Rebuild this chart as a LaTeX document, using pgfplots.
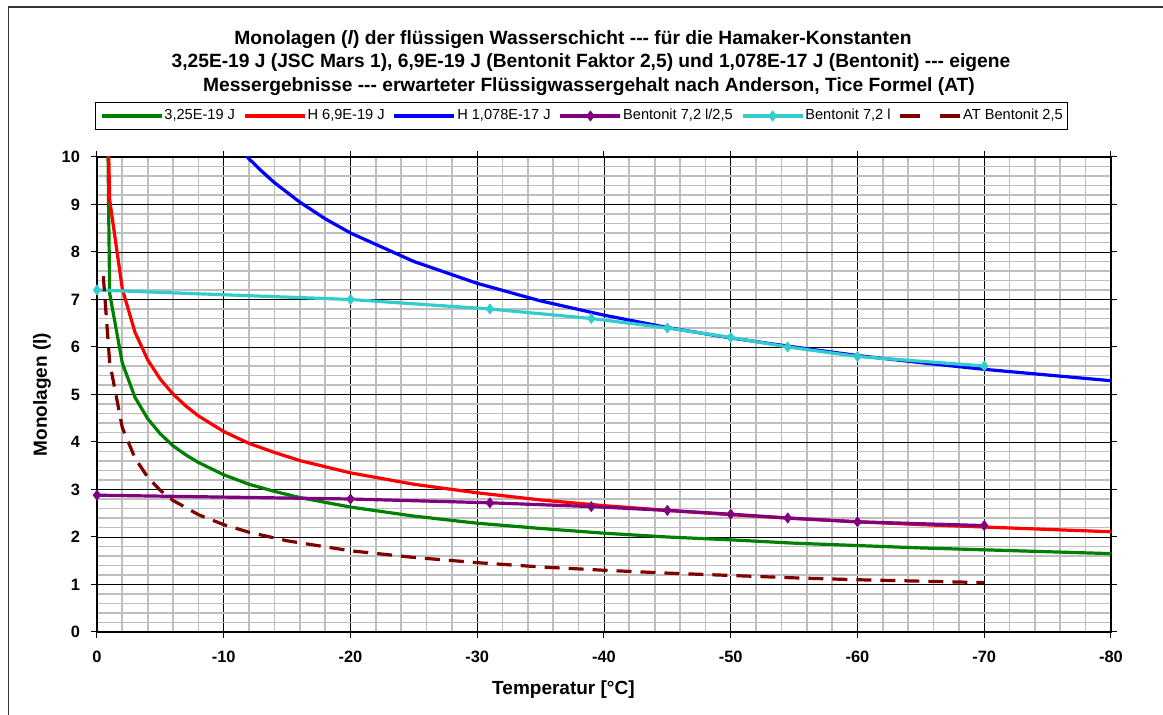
\documentclass[border=0pt]{standalone}
\usepackage{fontspec}
\setmainfont{Liberation Sans}[Ligatures=TeXOff]
\usepackage{pgfplots}
\pgfplotsset{compat=1.18}
\definecolor{cGreen}{HTML}{008000}
\definecolor{cRed}{HTML}{FF0000}
\definecolor{cBlue}{HTML}{0000FF}
\definecolor{cPurple}{HTML}{800080}
\definecolor{cCyan}{HTML}{33CCCC}
\definecolor{cDark}{HTML}{800000}
\definecolor{gridminor}{HTML}{BEBEBE}
\definecolor{gridmid}{HTML}{808080}

\begin{document}
\begin{tikzpicture}
\path[use as bounding box] (0pt,0pt) rectangle (581.5pt,-357.5pt);
\draw[line width=0.8pt, black!80] (4.25pt,-357.5pt) -- (4.25pt,-3.5pt) -- (581.5pt,-3.5pt);
% title
\begin{scope}[every node/.style={font=\bfseries\fontsize{9.6}{11}\selectfont, anchor=center, inner sep=0pt}]
\node at (286.5pt,-20pt) {Monolagen (\textit{l}) der flüssigen Wasserschicht --- für die Hamaker-Konstanten};
\node at (295.5pt,-31.5pt) {3,25E-19 J (JSC Mars 1), 6,9E-19 J (Bentonit Faktor 2,5) und 1,078E-17 J (Bentonit) --- eigene};
\node at (294.5pt,-43.5pt) {Messergebnisse --- erwarteter Flüssigwassergehalt nach Anderson, Tice Formel (AT)};
\end{scope}

\begin{axis}[
  at={(48.5pt,-316pt)}, anchor=south west,
  scale only axis, width=507pt, height=237.5pt,
  xmin=-80, xmax=0, x dir=reverse,
  ymin=0, ymax=10,
  xtick={0,-10,-20,-30,-40,-50,-60,-70,-80},
  xticklabels={0,-10,-20,-30,-40,-50,-60,-70,-80},
  ytick={0,1,...,10},
  yticklabels={0,1,2,3,4,5,6,7,8,9,10},
  minor x tick num=4, minor y tick num=4,
  grid=both,
  minor grid style={gridminor, line width=0.85pt},
  major grid style={black, line width=0.45pt},
  extra y ticks={2,4,6,8},
  extra y tick labels={},
  extra y tick style={grid style={gridmid, line width=0.9pt}},
  tick align=outside, major tick length=3pt, minor tick length=0pt,
  tick style={black, line width=0.5pt},
  axis line style={black, line width=0.9pt},
  ticklabel style={font=\bfseries\fontsize{8.2}{9.5}\selectfont},
  xticklabel style={yshift=-3pt},
  yticklabel style={xshift=-2pt},
  xlabel={Temperatur [°C]},
  ylabel={Monolagen (l)},
  every axis x label/.style={at={(axis description cs:0.46,-0.1221)}, anchor=center,
    font=\bfseries\fontsize{9.5}{11}\selectfont},
  every axis y label/.style={at={(axis description cs:-0.0542,0.5)}, anchor=center, rotate=90,
    font=\bfseries\fontsize{9.5}{11}\selectfont},
  legend columns=6,
  legend style={at={(0.4783,1.0863)}, anchor=center, draw=black, line width=0.5pt,
    font=\fontsize{7.3}{8.5}\selectfont, inner xsep=2pt, inner ysep=1.5pt,
    nodes={inner xsep=0.6pt},
    /tikz/every even column/.append style={column sep=3.5pt}},
  legend image code/.code={\draw[mark repeat=2,mark phase=2] plot coordinates {(0pt,0pt)(15pt,0pt)(30pt,0pt)};},
]
\addplot[cGreen, line width=1.6pt, mark=none] coordinates {
(-0.85,10.5)(-1,7.13)(-2,5.66)(-3,4.94)(-4,4.49)(-5,4.17)(-6,3.92)(-7,3.73)(-8,3.57)
(-10,3.31)(-12,3.11)(-14,2.96)(-16,2.83)(-20,2.63)(-25,2.44)(-30,2.29)(-35,2.18)
(-40,2.08)(-45,2.00)(-50,1.94)(-55,1.87)(-60,1.82)(-65,1.77)(-70,1.73)(-75,1.69)(-80,1.65)};
\addlegendentry{3,25E-19 J}
\addplot[cRed, line width=1.6pt, mark=none] coordinates {
(-0.9,10.4)(-1,9.10)(-2,7.22)(-3,6.31)(-4,5.73)(-5,5.32)(-6,5.01)(-7,4.76)(-8,4.55)
(-10,4.22)(-12,3.97)(-14,3.78)(-16,3.61)(-20,3.35)(-25,3.11)(-30,2.93)(-35,2.78)
(-40,2.66)(-45,2.56)(-50,2.47)(-55,2.39)(-60,2.32)(-65,2.26)(-70,2.21)(-75,2.16)(-80,2.11)};
\addlegendentry{H 6,9E-19 J}
\addplot[cBlue, line width=1.6pt, mark=none] coordinates {
(-11,10.25)(-12,9.96)(-13,9.70)(-14,9.46)(-16,9.05)(-18,8.70)(-20,8.40)(-25,7.80)
(-30,7.34)(-35,6.97)(-40,6.67)(-45,6.41)(-50,6.19)(-55,6.00)(-60,5.82)(-65,5.67)
(-70,5.53)(-75,5.41)(-80,5.29)};
\addlegendentry{H 1,078E-17 J}
\addplot[cPurple, line width=1.6pt, mark=diamond*, mark size=2.4pt, mark options={solid, line width=0.5pt}] coordinates {
(0,2.88)(-20,2.80)(-31,2.72)(-39,2.64)(-45,2.56)(-50,2.48)(-54.5,2.40)(-60,2.32)(-70,2.24)};
\addlegendentry{Bentonit 7,2 l/2,5}
\addplot[cCyan, line width=1.6pt, mark=diamond*, mark size=2.4pt, mark options={solid, line width=0.5pt}] coordinates {
(0,7.2)(-20,7.0)(-31,6.8)(-39,6.6)(-45,6.4)(-50,6.2)(-54.5,6.0)(-60,5.8)(-70,5.6)};
\addlegendentry{Bentonit 7,2 l}
\addplot[cDark, line width=1.6pt, mark=none, dash pattern=on 7.5pt off 4.5pt,
  legend image code/.code={\draw[dash pattern=on 10pt off 10pt] (0pt,0pt) -- (30pt,0pt);}] coordinates {
(-0.5,7.49)(-1,5.68)(-2,4.30)(-3,3.66)(-4,3.26)(-5,2.98)(-6,2.77)(-8,2.47)(-10,2.26)
(-12,2.10)(-15,1.92)(-20,1.71)(-25,1.57)(-30,1.46)(-35,1.37)(-40,1.30)(-45,1.24)
(-50,1.19)(-55,1.14)(-60,1.10)(-65,1.07)(-70,1.04)};
\addlegendentry{AT Bentonit 2,5}
\end{axis}
\end{tikzpicture}
\end{document}
